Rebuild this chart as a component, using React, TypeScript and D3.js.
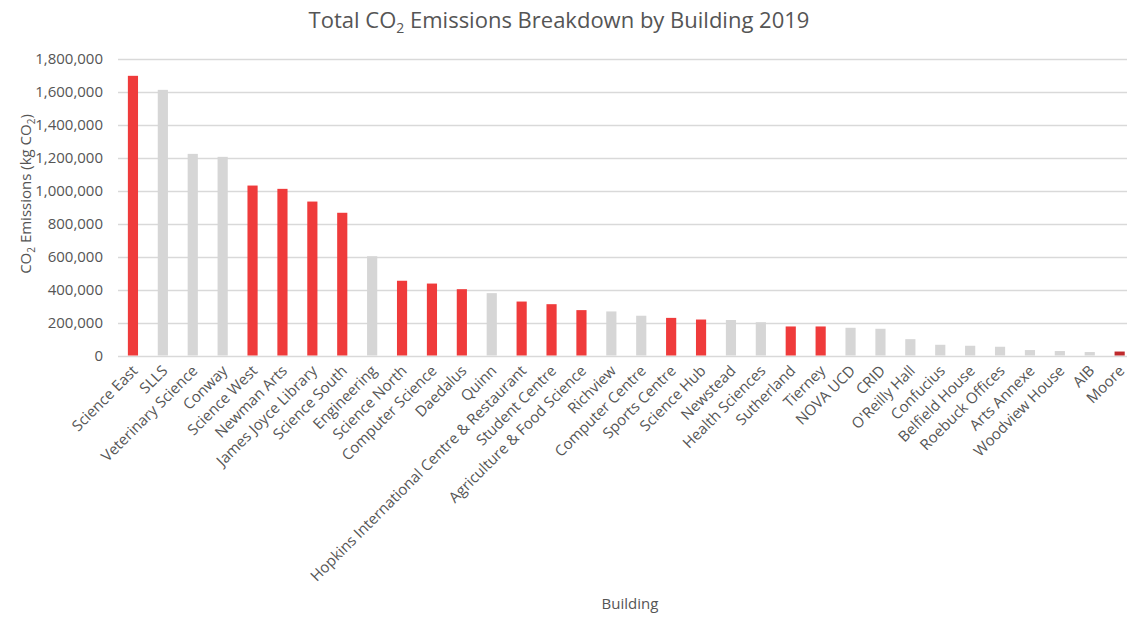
import React from "react";
import * as d3 from "d3";

// Buildings, in chart order (largest emitter first)
const buildings = [
  "Science East", "SLLS", "Veterinary Science", "Conway", "Science West",
  "Newman Arts", "James Joyce Library", "Science South", "Engineering",
  "Science North", "Computer Science", "Daedalus", "Quinn",
  "Hopkins International Centre & Restaurant", "Student Centre",
  "Agriculture & Food Science", "Richview", "Computer Centre", "Sports Centre",
  "Science Hub", "Newstead", "Health Sciences", "Sutherland", "Tierney",
  "NOVA UCD", "CRID", "O'Reilly Hall", "Confucius", "Belfield House",
  "Roebuck Offices", "Arts Annexe", "Woodview House", "AIB", "Moore",
];

// Total CO2 emissions per building, kg CO2
const emissions = [
  1695000, 1610000, 1222000, 1204000, 1030000,
  1010000, 933000, 865000, 602000,
  453000, 436000, 402000, 378000,
  327000, 311000,
  275000, 267000, 241000, 228000,
  218000, 215000, 202000, 176000, 176000,
  168000, 162000, 99000, 65000, 59000,
  53000, 33000, 27000, 21000, 24000,
];

// Highlight group for each bar
const groups = [
  "red", "grey", "grey", "grey", "red",
  "red", "red", "red", "grey",
  "red", "red", "red", "grey",
  "red", "red",
  "red", "grey", "grey", "red",
  "red", "grey", "grey", "red", "red",
  "grey", "grey", "grey", "grey", "grey",
  "grey", "grey", "grey", "grey", "dark",
];

const yTicks = [0, 200000, 400000, 600000, 800000, 1000000, 1200000, 1400000, 1600000, 1800000];

const colours: Record<string, string> = {
  red: "#EF3B3B",
  grey: "#D6D6D6",
  dark: "#BF2A2C",
};

const W = 1127;
const H = 617;
const FONT = "'Open Sans', sans-serif";
const TEXT = "#555555";

export default function App() {
  const left = 118;
  const band = 29.9;
  const x = d3
    .scaleBand<string>()
    .domain(buildings)
    .range([left, left + band * buildings.length])
    .paddingInner(0.66)
    .paddingOuter(0.33);
  const y = d3.scaleLinear().domain([0, 1800000]).range([355.5, 58.5]);
  const fmt = d3.format(",");

  return (
    <svg
      width={W}
      height={H}
      style={{ position: "absolute", left: 0, top: 0, background: "#fff" }}
      fontFamily={FONT}
    >
      <rect width={W} height={H} fill="#fff" />
      <text x={559} y={28} textAnchor="middle" fontSize={22} fill={TEXT}>
        Total CO
        <tspan fontSize={14} dy={5}>2</tspan>
        <tspan dy={-5}> Emissions Breakdown by Building 2019</tspan>
      </text>

      {yTicks.map((t) => (
        <g key={t}>
          <line
            x1={left}
            x2={W}
            y1={Math.round(y(t)) + 0.5}
            y2={Math.round(y(t)) + 0.5}
            stroke="#D9D9D9"
            strokeWidth={1.3}
          />
          <text
            x={103}
            y={y(t)}
            dy="0.35em"
            textAnchor="end"
            fontSize={15}
            fill={TEXT}
          >
            {fmt(t)}
          </text>
        </g>
      ))}

      {buildings.map((b, i) => (
        <rect
          key={b}
          x={x(b)}
          y={y(emissions[i])}
          width={x.bandwidth()}
          height={y(0) - y(emissions[i])}
          fill={colours[groups[i]]}
        />
      ))}

      {buildings.map((b) => {
        const cx = (x(b) as number) + x.bandwidth() / 2;
        return (
          <text
            key={b}
            transform={`translate(${cx + 2},${368}) rotate(-45)`}
            textAnchor="end"
            dy="0.35em"
            fontSize={15}
            fill={TEXT}
          >
            {b}
          </text>
        );
      })}

      <text
        transform={`translate(31,194) rotate(-90)`}
        textAnchor="middle"
        fontSize={15}
        fill={TEXT}
      >
        CO
        <tspan fontSize={10} dy={4}>2</tspan>
        <tspan dy={-4}> Emissions (kg CO</tspan>
        <tspan fontSize={10} dy={4}>2</tspan>
        <tspan dy={-4}>)</tspan>
      </text>

      <text x={630} y={609} textAnchor="middle" fontSize={15} fill={TEXT}>
        Building
      </text>
    </svg>
  );
}
